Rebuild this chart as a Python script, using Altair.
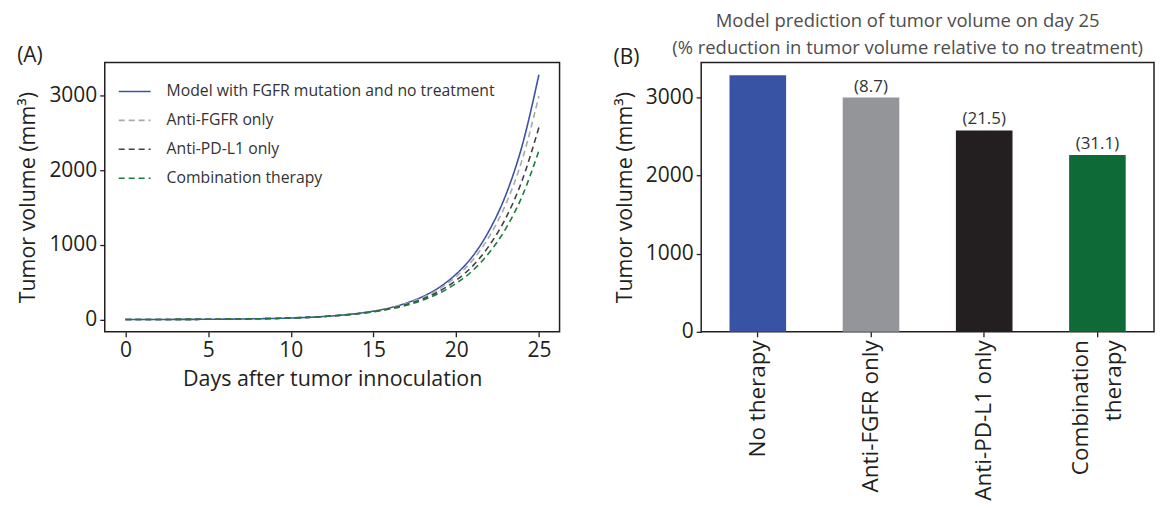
import altair as alt
import pandas as pd

FONT = "Open Sans"

# ---------------- Panel A data ----------------
days = list(range(26))
series_names = [
    "Model with FGFR mutation and no treatment",
    "Anti-FGFR only",
    "Anti-PD-L1 only",
    "Combination therapy",
]
no_treatment = [0.7, 1.0, 1.4, 2.0, 2.8, 3.9, 5.5, 7.7, 11, 15, 21, 29, 41,
                58, 81, 113, 158, 222, 310, 435, 610, 850, 1195, 1670, 2340, 3280]
anti_fgfr = [0.7, 1.0, 1.4, 2.0, 2.8, 3.9, 5.5, 7.7, 11, 15, 21, 29, 41,
             57.6, 80, 111, 154, 214, 297, 414, 576, 798, 1114, 1546, 2150, 2995]
anti_pdl1 = [0.7, 1.0, 1.4, 2.0, 2.8, 3.9, 5.5, 7.7, 11, 15, 21, 29, 41,
             57, 78, 107, 147, 202, 277, 382, 526, 719, 992, 1361, 1872, 2575]
combination = [0.7, 1.0, 1.4, 2.0, 2.8, 3.9, 5.5, 7.7, 11, 15, 21, 29, 41,
               56, 76, 104, 141, 192, 261, 356, 485, 657, 897, 1219, 1659, 2260]
line_colors = ["#3a53a4", "#a7a9ac", "#414042", "#1b7d3d"]
line_dashes = [[1, 0], [6, 4], [6, 4], [6, 4]]

# ---------------- Panel B data ----------------
therapies = ["No therapy", "Anti-FGFR only", "Anti-PD-L1 only", "Combination therapy"]
day25_volume = [3280, 2995, 2575, 2260]
reduction_labels = ["", "(8.7)", "(21.5)", "(31.1)"]
bar_colors = ["#3953a4", "#939598", "#231f20", "#0e6b37"]

rows = []
for name, vals in zip(series_names, [no_treatment, anti_fgfr, anti_pdl1, combination]):
    for d, v in zip(days, vals):
        rows.append({"day": d, "volume": v, "series": name})
line_df = pd.DataFrame(rows)

bar_df = pd.DataFrame({"therapy": therapies, "vol25": day25_volume, "label": reduction_labels})

legend_kw = dict(
    title=None, orient="none", legendX=13, legendY=12, padding=0,
    symbolType="stroke", symbolSize=1024, symbolStrokeWidth=1.6,
    labelFont=FONT, labelFontSize=15.8, labelColor="#333333", labelLimit=500,
    labelOffset=15, rowPadding=4,
)

axis_common = dict(
    domain=False, grid=False, ticks=True, tickSize=5, tickColor="#231f20", tickWidth=1.3,
    labelFont=FONT, labelFontSize=21, labelColor="#231f20", labelPadding=3,
    titleFont=FONT, titleFontSize=21.5, titleFontWeight="normal", titleColor="#231f20",
)

W, H = 456, 270

line = alt.Chart(line_df).mark_line(strokeWidth=1.6, interpolate="monotone").encode(
    x=alt.X("day:Q",
            scale=alt.Scale(domain=[-1.25, 26.25], nice=False, zero=False),
            axis=alt.Axis(values=[0, 5, 10, 15, 20, 25], title="Days after tumor innoculation",
                          titlePadding=8, **axis_common)),
    y=alt.Y("volume:Q",
            scale=alt.Scale(domain=[-164, 3444], nice=False, zero=False),
            axis=alt.Axis(values=[0, 1000, 2000, 3000], format="d", title="Tumor volume (mm³)",
                          titlePadding=9, **axis_common)),
    color=alt.Color("series:N", sort=series_names,
                    scale=alt.Scale(domain=series_names, range=line_colors),
                    legend=alt.Legend(**legend_kw)),
    strokeDash=alt.StrokeDash("series:N", sort=series_names,
                              scale=alt.Scale(domain=series_names, range=line_dashes),
                              legend=alt.Legend(**legend_kw)),
)

tagA = alt.Chart(pd.DataFrame({"t": ["(A)"]})).mark_text(
    font=FONT, fontSize=21, color="#231f20", align="center", baseline="middle"
).encode(text="t:N", x=alt.value(-75), y=alt.value(-7))

left = alt.layer(line, tagA).properties(width=W, height=H)

bars = alt.Chart(bar_df).mark_bar().encode(
    x=alt.X("therapy:N", sort=therapies,
            scale=alt.Scale(paddingInner=0.5, paddingOuter=0.25),
            axis=alt.Axis(title=None, labelAngle=270, labelAlign="right", labelBaseline="middle",
                          labelExpr="datum.label == 'Combination therapy' ? ['Combination', 'therapy'] : datum.label",
                          labelOffset={"condition": {"test": "datum.value == 'Combination therapy'", "value": -16},
                                       "value": 0},
                          labelFontSize=22.5, labelLineHeight=33,
                          **{k: v for k, v in axis_common.items() if k != "labelFontSize"})),
    y=alt.Y("vol25:Q", scale=alt.Scale(domain=[0, 3444], nice=False, zero=True),
            axis=alt.Axis(values=[0, 1000, 2000, 3000], format="d", title="Tumor volume (mm³)",
                          titlePadding=9, **axis_common)),
    fill=alt.Fill("therapy:N", sort=therapies,
                  scale=alt.Scale(domain=therapies, range=bar_colors), legend=None),
)

bar_text = alt.Chart(bar_df).mark_text(
    font=FONT, fontSize=17, color="#333333", baseline="bottom", dy=-2
).encode(
    x=alt.X("therapy:N", sort=therapies),
    y=alt.Y("vol25:Q"),
    text="label:N",
)

tagB = alt.Chart(pd.DataFrame({"t": ["(B)"]})).mark_text(
    font=FONT, fontSize=21, color="#231f20", align="center", baseline="middle"
).encode(text="t:N", x=alt.value(-75), y=alt.value(-5))

right = alt.layer(bars, bar_text, tagB).properties(
    width=454, height=H,
    title=alt.TitleParams(
        ["Model prediction of tumor volume on day 25",
         "(% reduction in tumor volume relative to no treatment)"],
        font=FONT, fontSize=18.5, fontWeight="normal", color="#4d4d4d",
        anchor="middle", dx=-20, offset=-11, lineHeight=27,
    ),
)

chart = alt.hconcat(left, right, spacing=142, bounds="flush").resolve_scale(
    color="independent", strokeDash="independent", fill="independent"
).properties(
    padding={"left": 8, "top": 2, "right": 5, "bottom": 5},
    background="white",
).configure_view(
    stroke="#231f20", strokeWidth=1.5
)

chart.save("out.html", embed_options={"renderer": "svg", "actions": False})
